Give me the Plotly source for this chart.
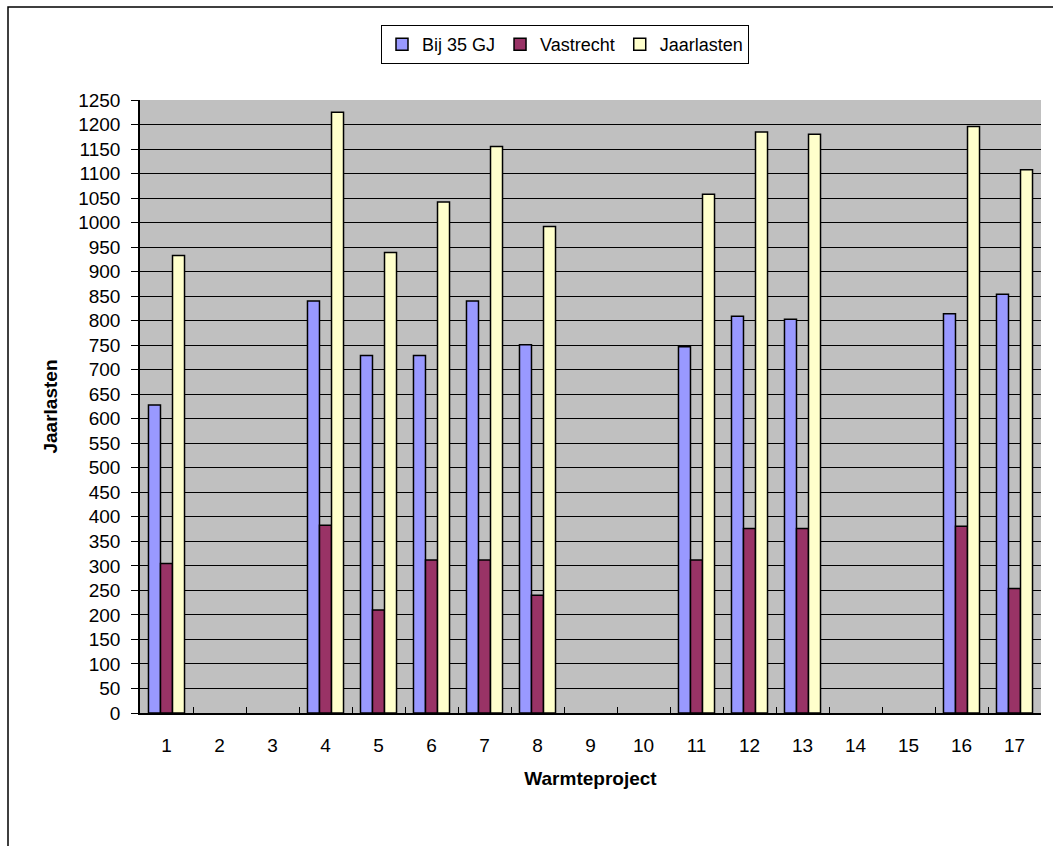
import plotly.graph_objects as go

categories = [str(i) for i in range(1, 18)]
bij_35_gj = [628, None, None, 840, 729, 729, 840, 751, None, None, 747, 809, 803, None, None, 814, 854]
vastrecht = [305, None, None, 383, 210, 312, 312, 240, None, None, 312, 376, 376, None, None, 381, 254]
jaarlasten = [933, None, None, 1225, 939, 1042, 1155, 992, None, None, 1058, 1185, 1180, None, None, 1196, 1108]
y_ticks = list(range(0, 1251, 50))

FONT = "Liberation Sans, Arial, sans-serif"
FS = 19

fig = go.Figure()
series = [
    ("Bij 35 GJ", bij_35_gj, "#9999FF"),
    ("Vastrecht", vastrecht, "#993366"),
    ("Jaarlasten", jaarlasten, "#FFFFCC"),
]
for name, vals, col in series:
    fig.add_trace(go.Bar(
        x=categories, y=vals, name=name,
        marker=dict(color=col, line=dict(color="black", width=1.5)),
    ))

W, H = 1053, 846
L, R, T, B = 140, 12, 100, 133
pw = W - L - R
ph = H - T - B

fig.update_layout(
    width=W, height=H,
    margin=dict(l=L, r=R, t=T, b=B, pad=0),
    paper_bgcolor="white",
    plot_bgcolor="#C0C0C0",
    barmode="group",
    bargap=0.32,
    bargroupgap=0,
    font=dict(family=FONT, size=FS, color="black"),
    showlegend=True,
    legend=dict(
        orientation="h",
        x=(565 - L) / pw, xanchor="center",
        y=(H - B - 25) / ph, yanchor="top",
        bgcolor="white",
        bordercolor="black", borderwidth=1,
        font=dict(family=FONT, size=18),
        itemwidth=30,
        tracegroupgap=0,
        traceorder="normal",
    ),
    xaxis=dict(
        type="category",
        tickmode="array", tickvals=categories, ticktext=categories,
        ticks="inside", tickson="boundaries", ticklen=6, tickcolor="black",
        showline=True, linecolor="black", linewidth=1.5,
        showgrid=False,
        ticklabelstandoff=14,
        title=dict(text="<b>Warmteproject</b>", font=dict(family=FONT, size=FS), standoff=17),
    ),
    yaxis=dict(
        range=[0, 1250],
        tickmode="array", tickvals=y_ticks, ticktext=[str(v) for v in y_ticks],
        ticks="outside", ticklen=7, tickcolor="black",
        showline=True, linecolor="black", linewidth=1.5,
        showgrid=True, gridcolor="black", gridwidth=1,
        zeroline=False,
        ticklabelstandoff=7,
        title=dict(text="<b>Jaarlasten</b>", font=dict(family=FONT, size=FS), standoff=16),
    ),
    shapes=[dict(
        type="rect", xref="paper", yref="paper",
        x0=(8 - L) / pw, x1=(W + 10 - L) / pw,
        y0=(H - B - (H + 10)) / ph, y1=(H - B - 7) / ph,
        line=dict(color="black", width=1.5), fillcolor="rgba(0,0,0,0)",
        layer="below",
    )],
)

fig.write_html(
    "out.html",
    config={"displayModeBar": False},
    post_script="document.body.style.margin='0';document.body.style.overflow='hidden';",
)
